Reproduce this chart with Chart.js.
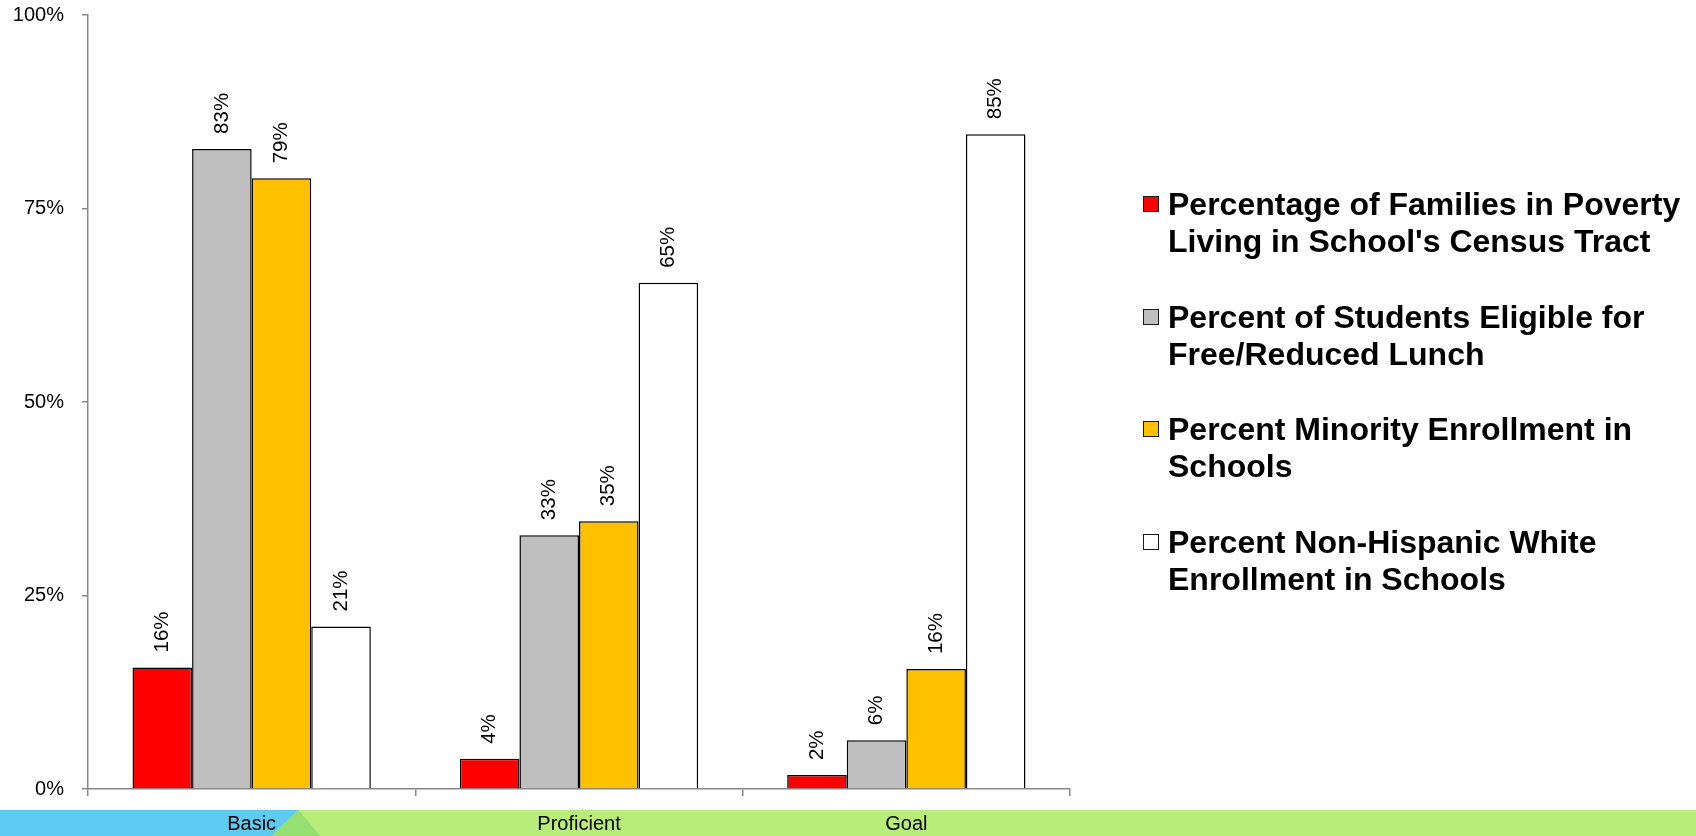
<!DOCTYPE html>
<html>
<head>
<meta charset="utf-8">
<script src="https://cdn.jsdelivr.net/npm/chart.js@4/dist/chart.umd.min.js"></script>
<style>
  html, body { margin: 0; padding: 0; background: #fff; }
  #wrap { position: relative; width: 1696px; height: 836px; overflow: hidden; }
  #c { position: absolute; left: 0; top: 0; }
  #legend { position: absolute; left: 1143px; top: 0; font-family: "Liberation Sans", Arial, sans-serif;
            font-weight: bold; font-size: 32px; line-height: 37px; color: #000; }
  .item { position: absolute; left: 0; white-space: nowrap; }
  .sw { position: absolute; left: 0; width: 14px; height: 14px; border: 1.5px solid #1a1a1a; }
  .txt { position: absolute; left: 25px; top: 0; }
</style>
</head>
<body>
<div id="wrap">
  <canvas id="c" width="1696" height="836"></canvas>
  <div id="legend"></div>
</div>
<script>
// ---- data ----
const categories = ['Basic', 'Proficient', 'Goal'];
const seriesNames = [
  ["Percentage of Families in Poverty", "Living in School's Census Tract"],
  ["Percent of Students Eligible for", "Free/Reduced Lunch"],
  ["Percent Minority Enrollment in", "Schools"],
  ["Percent Non-Hispanic White", "Enrollment in Schools"]
];
const povertyPct  = [15.7, 3.9, 1.8];
const lunchPct    = [82.7, 32.8, 6.3];
const minorityPct = [78.9, 34.6, 15.5];
const whitePct    = [21.0, 65.4, 84.6];
const yTickValues = [0, 25, 50, 75, 100];

// ---- styles ----
const seriesColors = ['#FF0000', '#BFBFBF', '#FFC000', '#FFFFFF'];
const FONT = '"Liberation Sans", Arial, sans-serif';

const seriesData = [povertyPct, lunchPct, minorityPct, whitePct];

const bandPlugin = {
  id: 'band',
  beforeDraw(chart) {
    const ctx = chart.ctx;
    const W = chart.width, H = chart.height;
    const top = H - 26, bot = H;
    ctx.save();
    ctx.fillStyle = '#fff';
    ctx.fillRect(0, 0, W, H);
    ctx.fillStyle = '#B9ED79';
    ctx.fillRect(0, top, W, bot - top);
    ctx.fillStyle = '#5DCBF2';
    ctx.beginPath();
    ctx.moveTo(0, top); ctx.lineTo(298, top); ctx.lineTo(320, bot); ctx.lineTo(0, bot); ctx.closePath();
    ctx.fill();
    ctx.fillStyle = '#95E071';
    ctx.beginPath();
    ctx.moveTo(298, top); ctx.lineTo(320, bot); ctx.lineTo(271, bot); ctx.closePath();
    ctx.fill();
    ctx.restore();
  }
};

const labelPlugin = {
  id: 'barLabels',
  afterDatasetsDraw(chart) {
    const ctx = chart.ctx;
    ctx.save();
    ctx.font = '20.5px ' + FONT;
    ctx.fillStyle = '#000';
    ctx.textAlign = 'left';
    ctx.textBaseline = 'middle';
    chart.data.datasets.forEach((ds, i) => {
      chart.getDatasetMeta(i).data.forEach((bar, j) => {
        ctx.save();
        ctx.translate(bar.x, bar.y - 15);
        ctx.rotate(-Math.PI / 2);
        ctx.fillText(Math.round(ds.data[j]) + '%', 0, 0);
        ctx.restore();
      });
    });
    ctx.restore();
  }
};

new Chart(document.getElementById('c'), {
  type: 'bar',
  data: {
    labels: categories,
    datasets: seriesData.map((d, i) => ({
      label: seriesNames[i].join(' '),
      data: d,
      backgroundColor: seriesColors[i],
      borderColor: '#000',
      borderWidth: 1.5,
      barPercentage: 1.0,
      categoryPercentage: 0.728
    }))
  },
  options: {
    responsive: false,
    animation: false,
    devicePixelRatio: 1,
    layout: { padding: { left: 0, right: 626, top: 15, bottom: 0 } },
    plugins: { legend: { display: false }, tooltip: { enabled: false } },
    scales: {
      x: {
        z: 1,
        grid: { offset: true, drawOnChartArea: false, tickLength: 7, color: '#888', lineWidth: 1.5 },
        border: { color: '#888', width: 1.5 },
        ticks: { font: { family: FONT, size: 20 }, color: '#000', padding: 16, maxRotation: 0 },
        afterFit(s) { s.height = 47; }
      },
      y: {
        min: 0, max: 100,
        afterBuildTicks(s) { s.ticks = yTickValues.map(v => ({ value: v })); },
        grid: { drawOnChartArea: false, tickLength: 6, color: '#888', lineWidth: 1.5 },
        border: { color: '#888', width: 1.5 },
        ticks: { font: { family: FONT, size: 20 }, color: '#000', padding: 18, callback: v => v + '%' },
        afterFit(s) { s.width = 88; s.paddingTop = 0; s.paddingBottom = 0; }
      }
    }
  },
  plugins: [bandPlugin, labelPlugin]
});

// ---- HTML legend ----
const legendEl = document.getElementById('legend');
const legendTop = 186;
const entryGap = 112.5;
seriesNames.forEach((lines, i) => {
  const item = document.createElement('div');
  item.className = 'item';
  item.style.top = (legendTop + i * entryGap) + 'px';
  const sw = document.createElement('div');
  sw.className = 'sw';
  sw.style.background = seriesColors[i];
  sw.style.top = '10px';
  const txt = document.createElement('div');
  txt.className = 'txt';
  txt.innerHTML = lines.map(l => l.replace(/&/g, '&amp;')).join('<br>');
  item.appendChild(sw);
  item.appendChild(txt);
  legendEl.appendChild(item);
});
</script>
</body>
</html>
